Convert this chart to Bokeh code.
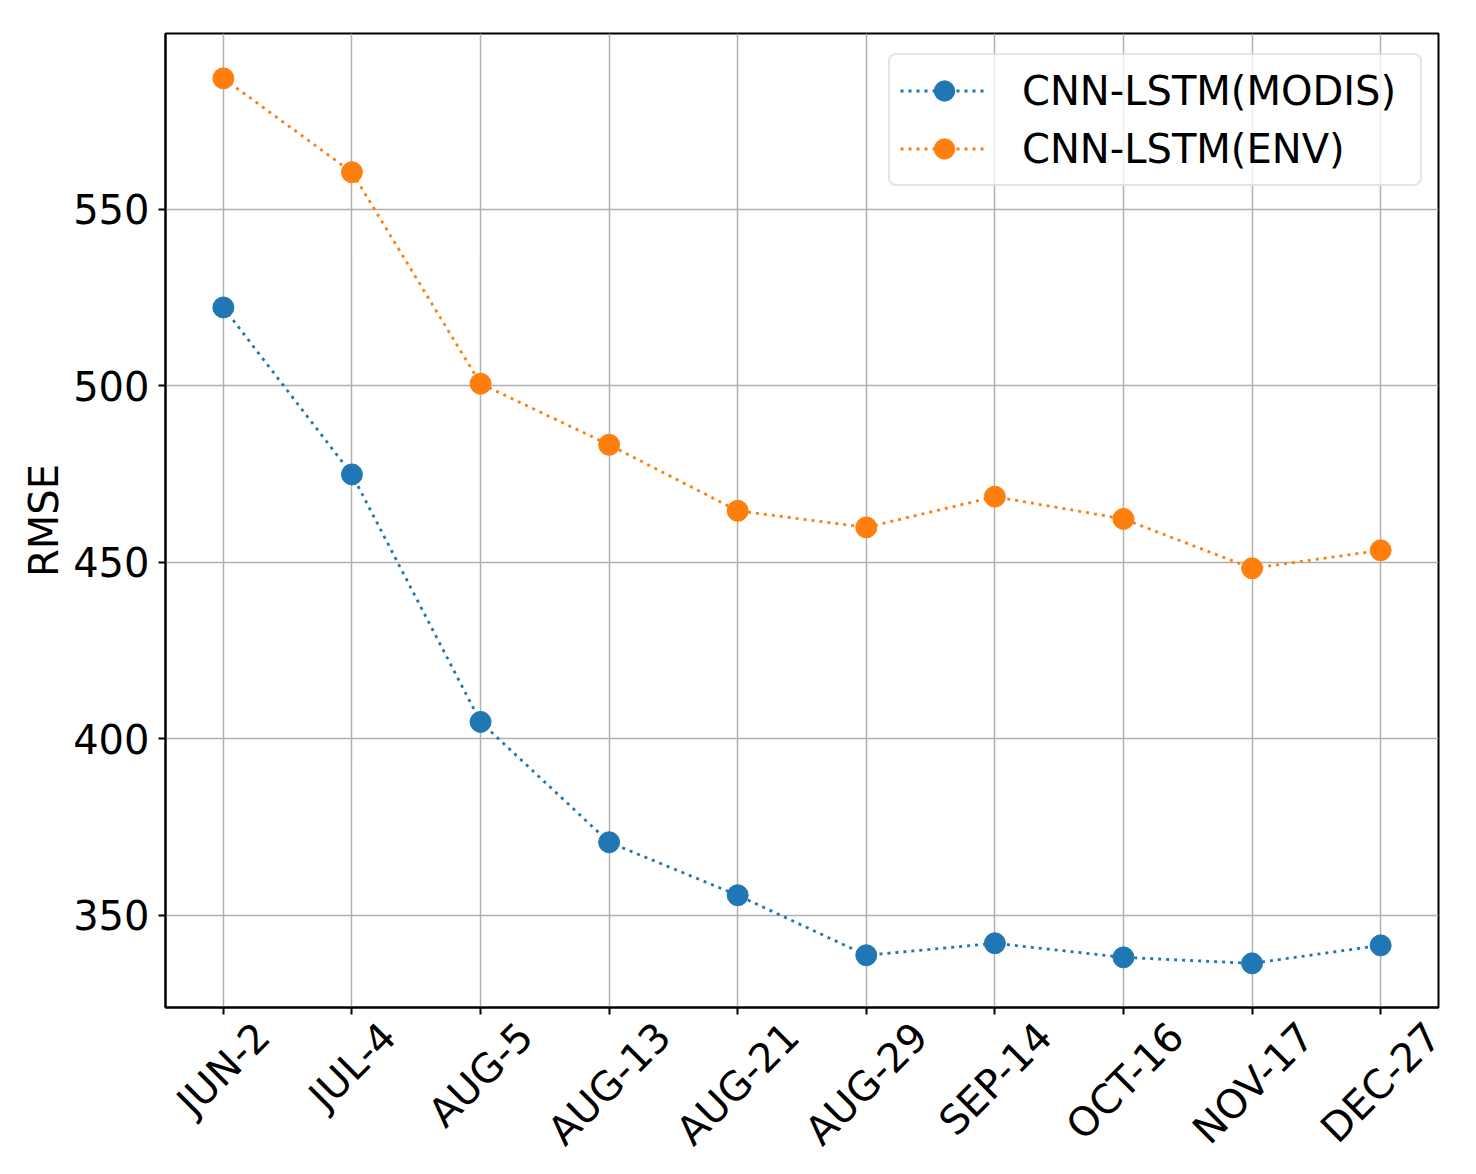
import math
from bokeh.plotting import figure
from bokeh.models import (Range1d, FixedTicker, Legend, LegendItem, LinearAxis,
                          CustomJSTickFormatter)
from bokeh.embed import file_html
from bokeh.resources import INLINE

# ---- data ----
categories = ["JUN-2", "JUL-4", "AUG-5", "AUG-13", "AUG-21",
              "AUG-29", "SEP-14", "OCT-16", "NOV-17", "DEC-27"]
modis_rmse = [522.2, 474.9, 404.8, 370.7, 355.7, 338.7, 342.1, 338.1, 336.4, 341.5]
env_rmse = [587.1, 560.5, 500.6, 483.3, 464.6, 459.9, 468.6, 462.3, 448.3, 453.4]
y_ticks = [350, 400, 450, 500, 550]
series_names = ["CNN-LSTM(MODIS)", "CNN-LSTM(ENV)"]
series_colors = ["#1f77b4", "#ff7f0e"]

FONT = "DejaVu Sans"
FS = 40
Y_LO, Y_HI = 323.9, 599.8
X_LO, X_HI = -0.45, len(categories) - 1 + 0.45
W, H = 1468, 1174
BL, BR, BT, BB = 165, 30, 33, 167

xs = list(range(len(categories)))

p = figure(width=W, height=H, output_backend="svg", toolbar_location=None,
           x_range=Range1d(X_LO, X_HI), y_range=Range1d(Y_LO, Y_HI),
           min_border_left=BL, min_border_right=BR,
           min_border_top=BT, min_border_bottom=BB)
p.background_fill_color = "white"
p.border_fill_color = "white"
p.outline_line_color = "black"
p.outline_line_width = 2
p.outline_line_alpha = 1.0

renderers = []
for vals, col in zip([modis_rmse, env_rmse], series_colors):
    lr = p.line(xs, vals, line_color=col, line_width=2.8, line_dash="3 5")
    sr = p.scatter(xs, vals, size=21, fill_color=col, line_color=col, line_width=1)
    renderers.append([lr, sr])

# axes
p.yaxis.ticker = FixedTicker(ticks=y_ticks)
p.xaxis.ticker = FixedTicker(ticks=xs)
p.xaxis.major_label_overrides = {i: "" for i in xs}
p.xaxis.major_label_standoff = 0
for ax in [p.xaxis[0], p.yaxis[0]]:
    ax.axis_line_color = "black"
    ax.axis_line_width = 2
    ax.major_tick_line_color = "black"
    ax.major_tick_line_width = 2
    ax.major_tick_out = 7
    ax.major_tick_in = 0
    ax.minor_tick_line_color = None
    ax.major_label_text_font = FONT
    ax.major_label_text_font_size = f"{FS}px"
    ax.major_label_text_color = "black"
p.yaxis.major_label_standoff = 9
p.yaxis.axis_label = "RMSE"
p.yaxis.axis_label_text_font = FONT
p.yaxis.axis_label_text_font_size = f"{FS}px"
p.yaxis.axis_label_text_font_style = "normal"
p.yaxis.axis_label_text_color = "black"
p.yaxis.axis_label_standoff = 3

p.grid.grid_line_color = "#b0b0b0"
p.grid.grid_line_width = 1.5

# rotated category labels, shifted so each rotated label's box is centred on its tick
em = {"A": .684, "C": .698, "D": .770, "E": .632, "G": .775, "J": .295,
      "L": .557, "N": .748, "O": .787, "P": .603, "S": .635, "T": .611,
      "U": .732, "V": .684, "M": .863, "-": .361}
def text_w(s):
    return sum(em.get(c, .636) for c in s) * FS
px_per_unit = (W - BL - BR) / (X_HI - X_LO)
label_pos = [x + 0.354 * text_w(c) / px_per_unit for x, c in zip(xs, categories)]
lab_ax = LinearAxis(ticker=FixedTicker(ticks=label_pos),
                    formatter=CustomJSTickFormatter(args=dict(names=categories),
                                                    code="return names[index]"),
                    major_label_orientation=math.pi / 4,
                    axis_line_color=None, major_tick_line_color=None,
                    minor_tick_line_color=None, major_tick_in=0, major_tick_out=0,
                    major_label_standoff=15, major_label_text_font=FONT,
                    major_label_text_font_size=f"{FS}px",
                    major_label_text_color="black")
p.add_layout(lab_ax, "below")

legend = Legend(items=[LegendItem(label=n, renderers=r)
                       for n, r in zip(series_names, renderers)],
                location=(723, 821), padding=10, spacing=7,
                glyph_width=88, glyph_height=51, label_height=51, label_width=388,
                label_standoff=34, label_text_font=FONT,
                label_text_font_size=f"{FS}px", label_text_color="black",
                border_line_color="#cccccc", border_line_width=2,
                background_fill_color="white", background_fill_alpha=0.8)
try:
    legend.border_radius = 8
except Exception:
    pass
p.add_layout(legend)

open("out.html", "w").write(file_html(p, INLINE))
